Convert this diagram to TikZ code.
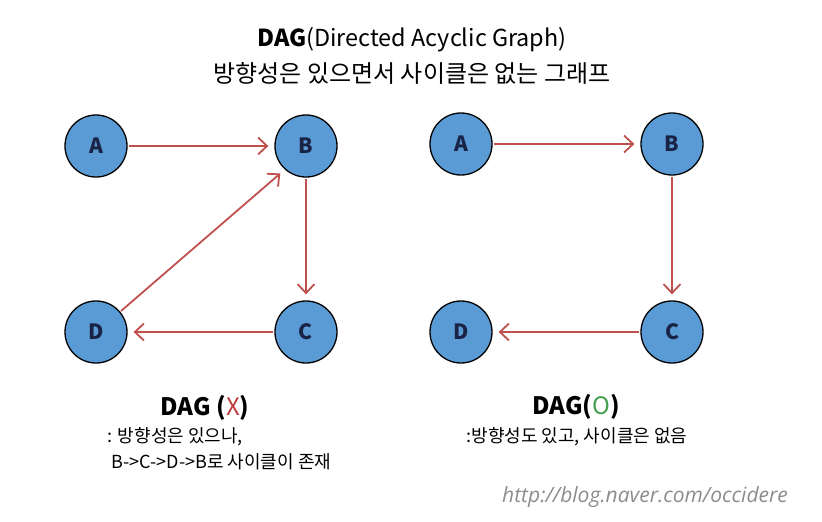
\documentclass[tikz,border=0pt]{standalone}
\usepackage{fontspec}
\usepackage{tikz}
\usetikzlibrary{arrows.meta}
\setmainfont{Noto Sans CJK KR}
\newfontfamily\urlfont{Open Sans}
\definecolor{vblue}{RGB}{91,155,213}
\definecolor{vtxt}{RGB}{25,35,70}
\definecolor{edgered}{RGB}{192,80,77}
\definecolor{xred}{RGB}{190,60,60}
\definecolor{ogreen}{RGB}{70,160,80}
\tikzset{
  vtx/.style={circle,draw=black,line width=1.3pt,fill=vblue,minimum size=62pt,
    inner sep=0pt,text=vtxt,font=\bfseries\fontsize{21}{21}\selectfont},
  edge/.style={draw=edgered,line width=1.8pt,-{Straight Barb[length=9pt,width=17pt]},
    shorten >=6pt,shorten <=1pt}
}
\begin{document}
\begin{tikzpicture}[x=1pt,y=1pt]
\useasboundingbox (0,0) rectangle (822,-522);
% titles:
\node (title) at (412,-40) {\fontsize{23.4}{24}\selectfont\textbf{DAG}(Directed Acyclic Graph)};
\node (subtitle) at (412,-73) {\fontsize{24}{24}\selectfont 방향성은 있으면서 사이클은 없는 그래프};
% left graph (not a DAG):
\node[vtx] (lA) at (96,-146) {A};
\node[vtx] (lB) at (306,-146) {B};
\node[vtx] (lC) at (306,-332) {C};
\node[vtx] (lD) at (96,-332) {D};
\path[edge] (lA) -- (lB);
\path[edge] (lB) -- (lC);
\path[edge] (lC) -- (lD);
\path[edge] (lD.40) -- (lB.228);
% right graph (a DAG):
\node[vtx] (rA) at (461,-144) {A};
\node[vtx] (rB) at (672,-144) {B};
\node[vtx] (rC) at (672,-332) {C};
\node[vtx] (rD) at (461,-332) {D};
\path[edge] (rA) -- (rB);
\path[edge] (rB) -- (rC);
\path[edge] (rC) -- (rD);
% captions:
\node (lcap) at (205,-408) {\fontsize{24}{24}\selectfont\textbf{DAG (}\textcolor{xred}{X}\textbf{)}};
\node[anchor=west] (lnote1) at (104,-437) {\fontsize{18}{18}\selectfont : 방향성은 있으나,};
\node[anchor=west] (lnote2) at (108,-462) {\fontsize{18}{18}\selectfont B->C->D->B로 사이클이 존재};
\node (rcap) at (576,-407) {\fontsize{24}{24}\selectfont\textbf{DAG(}\textcolor{ogreen}{O}\textbf{)}};
\node[anchor=west] (rnote) at (463,-437) {\fontsize{18}{18}\selectfont :방향성도 있고, 사이클은 없음};
\node (url) at (645,-497) {\urlfont\itshape\fontsize{21}{21}\selectfont\textcolor{black!45}{http://blog.naver.com/occidere}};
\end{tikzpicture}
\end{document}
